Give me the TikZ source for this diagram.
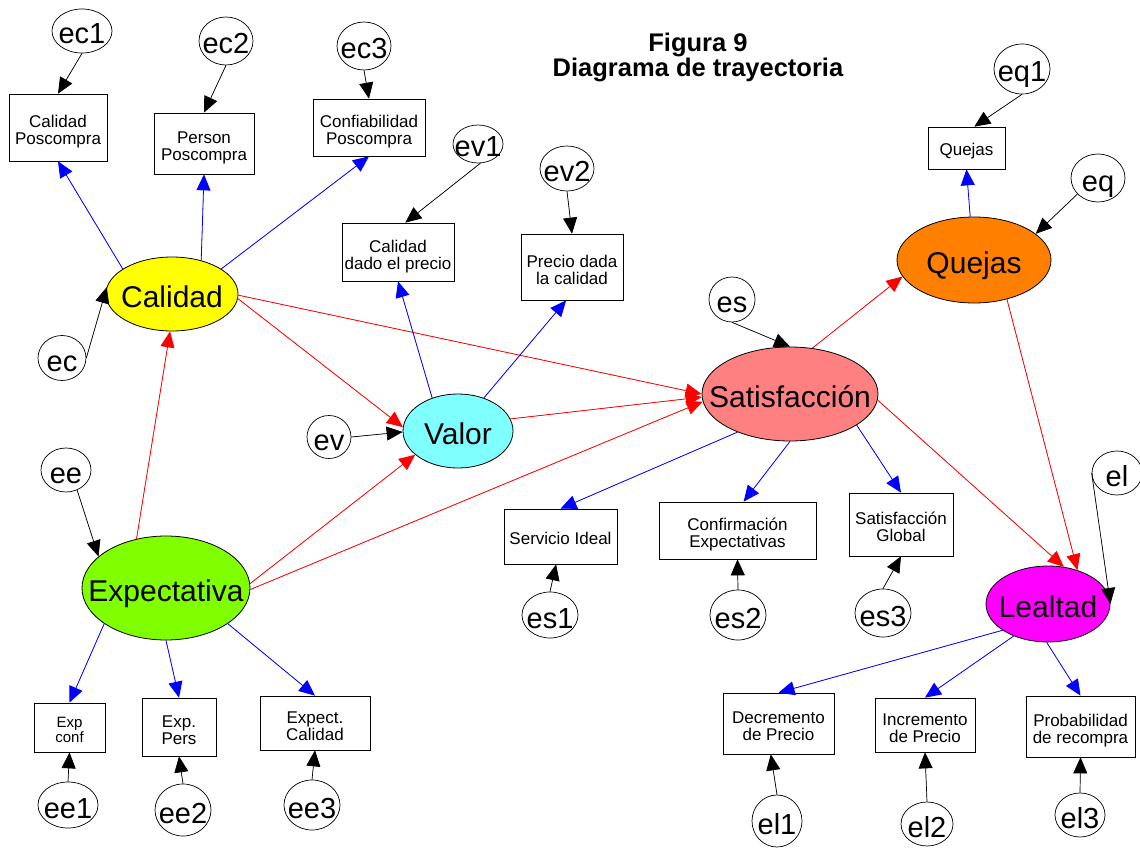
\documentclass[tikz,border=0pt]{standalone}
\usepackage{fontspec}
\setmainfont{Liberation Sans}
\usetikzlibrary{shapes.geometric,arrows.meta}

\definecolor{calfill}{RGB}{255,255,0}
\definecolor{expfill}{RGB}{128,255,0}
\definecolor{valfill}{RGB}{128,255,255}
\definecolor{satfill}{RGB}{255,128,128}
\definecolor{quefill}{RGB}{255,128,0}
\definecolor{leafill}{RGB}{255,0,255}
\definecolor{loadblue}{RGB}{0,0,255}
\definecolor{pathred}{RGB}{255,0,0}

\begin{document}
\begin{tikzpicture}[x=1pt,y=-1pt,
  latent/.style={ellipse,draw,line width=0.8pt,inner sep=0pt,
    text height=26pt,text depth=0pt,font=\fontsize{30}{30}\selectfont},
  err/.style={ellipse,draw,line width=0.7pt,inner sep=0pt,fill=white,
    text height=26pt,text depth=0pt,font=\fontsize{29}{29}\selectfont},
  obs/.style={rectangle,draw,line width=0.7pt,inner sep=0pt,align=center,
    text height=15pt,text depth=0pt,font=\fontsize{17}{17}\selectfont},
  obstwo/.style={obs,text height=34pt,text depth=0pt},
  tip/.style={-{Triangle[length=16pt,width=14pt]}},
  load/.style={tip,draw=loadblue,fill=loadblue,line width=0.8pt},
  effect/.style={tip,draw=pathred,fill=pathred,line width=0.8pt},
  resid/.style={tip,draw=black,fill=black,line width=0.7pt}]

\useasboundingbox (0,0) rectangle (1140,848);

% title
\node[font=\bfseries\fontsize{25.5}{25}\selectfont,align=center] (title) at (698,57)
  {Figura 9\\Diagrama de trayectoria};

% latent constructs
\node[latent,fill=calfill,minimum width=132pt,minimum height=74pt] (calidad) at (172,294) {\makebox[0pt]{Calidad}};
\node[latent,fill=expfill,minimum width=168pt,minimum height=104pt] (expect) at (166,588) {\makebox[0pt]{Expectativa}};
\node[latent,fill=valfill,minimum width=110pt,minimum height=74pt] (valor) at (458,431) {\makebox[0pt]{Valor}};
\node[latent,fill=satfill,minimum width=176pt,minimum height=94pt] (satis) at (790,394) {\makebox[0pt]{Satisfacción}};
\node[latent,fill=quefill,minimum width=154pt,minimum height=86pt] (quejas) at (974,260) {\makebox[0pt]{Quejas}};
\node[latent,fill=leafill,minimum width=124pt,minimum height=76pt] (lealtad) at (1048,604) {\makebox[0pt]{Lealtad}};

% observed indicators
\node[obstwo,minimum width=98pt,minimum height=67pt] (cpos) at (58,127.5) {Calidad\\Poscompra};
\node[obstwo,minimum width=100pt,minimum height=61pt] (ppos) at (204,143.5) {Person\\Poscompra};
\node[obstwo,minimum width=112pt,minimum height=57pt] (cfpos) at (369,127.5) {Confiabilidad\\Poscompra};
\node[obstwo,minimum width=112pt,minimum height=58pt] (cdp) at (398,252) {Calidad\\dado el precio};
\node[obstwo,minimum width=102pt,minimum height=66pt] (pdc) at (572,267) {Precio dada\\la calidad};
\node[obs,minimum width=77pt,minimum height=42pt] (qbox) at (966.5,148) {Quejas};
\node[obs,minimum width=113pt,minimum height=55pt] (sideal) at (560.5,536.5) {Servicio Ideal};
\node[obstwo,minimum width=157pt,minimum height=57pt] (confexp) at (737.5,530.5) {Confirmación\\Expectativas};
\node[obstwo,minimum width=104pt,minimum height=63pt] (sglob) at (901,524.5) {Satisfacción\\Global};
\node[obstwo,minimum width=111pt,minimum height=61pt] (decp) at (778.5,723.5) {Decremento\\de Precio};
\node[obstwo,minimum width=100pt,minimum height=54pt] (incp) at (925,725) {Incremento\\de Precio};
\node[obstwo,minimum width=109pt,minimum height=61pt] (probr) at (1080.5,726.5) {Probabilidad\\de recompra};
\node[obstwo,text height=30pt,minimum width=71pt,minimum height=49pt,font=\fontsize{15}{15}\selectfont] (expconf) at (69.5,727.5) {Exp\\conf};
\node[obstwo,minimum width=74pt,minimum height=58pt] (exppers) at (179,727) {Exp.\\Pers};
\node[obstwo,minimum width=110pt,minimum height=54pt] (expcal) at (315,723) {Expect.\\Calidad};

% error terms
\node[err,minimum width=60pt,minimum height=44pt] (ec1) at (82,31) {\makebox[0pt]{ec1}};
\node[err,minimum width=54pt,minimum height=48pt] (ec2) at (226,41) {\makebox[0pt]{ec2}};
\node[err,minimum width=54pt,minimum height=48pt] (ec3) at (364,46) {\makebox[0pt]{ec3}};
\node[err,minimum width=50pt,minimum height=38pt] (ev1) at (478,144) {\makebox[0pt]{ev1}};
\node[err,minimum width=54pt,minimum height=45pt] (ev2) at (567,168.5) {\makebox[0pt]{ev2}};
\node[err,minimum width=56pt,minimum height=50pt] (eq1) at (1022,69) {\makebox[0pt]{eq1}};
\node[err,minimum width=54pt,minimum height=48pt] (eq) at (1098,178) {\makebox[0pt]{eq}};
\node[err,minimum width=46pt,minimum height=45pt] (es) at (732,299.5) {\makebox[0pt]{es}};
\node[err,minimum width=48pt,minimum height=45pt] (ec) at (62,358) {\makebox[0pt]{ec}};
\node[err,minimum width=50pt,minimum height=44pt] (ee) at (66,470) {\makebox[0pt]{ee}};
\node[err,minimum width=44pt,minimum height=43pt] (ev) at (329,437) {\makebox[0pt]{ev}};
\node[err,minimum width=56pt,minimum height=46pt] (es1) at (550,615) {\makebox[0pt]{es1}};
\node[err,minimum width=56pt,minimum height=50pt] (es2) at (738,615) {\makebox[0pt]{es2}};
\node[err,minimum width=56pt,minimum height=48pt] (es3) at (883,613) {\makebox[0pt]{es3}};
\node[err,minimum width=50pt,minimum height=44pt] (el) at (1117,473) {\makebox[0pt]{el}};
\node[err,minimum width=50pt,minimum height=52pt] (el1) at (777,821) {\makebox[0pt]{el1}};
\node[err,minimum width=52pt,minimum height=44pt] (el2) at (927,824) {\makebox[0pt]{el2}};
\node[err,minimum width=50pt,minimum height=44pt] (el3) at (1080,815) {\makebox[0pt]{el3}};
\node[err,minimum width=60pt,minimum height=46pt] (ee1) at (68,805) {\makebox[0pt]{ee1}};
\node[err,minimum width=56pt,minimum height=52pt] (ee2) at (183,810) {\makebox[0pt]{ee2}};
\node[err,minimum width=56pt,minimum height=50pt] (ee3) at (312,805) {\makebox[0pt]{ee3}};

% structural paths
\draw[effect] (expect.121) -- (calidad.-93);
\draw[effect] (calidad.-4) -- (valor.176);
\draw[effect] (calidad.-1) -- (satis.180);
\draw[effect] (valor.13) -- (satis.182);
\draw[effect] (expect.3) -- (valor.-151);
\draw[effect] (expect.-1) -- (satis.185);
\draw[effect] (satis.64) -- (quejas.-167);
\draw[effect] (satis.-4) -- (lealtad.67);
\draw[effect] (quejas.-50) -- (lealtad.49);

% measurement loadings
\draw[load] (calidad.153) -- (cpos.south);
\draw[load] (calidad.49) -- (ppos.south);
\draw[load] (calidad.27) -- (cfpos.south);
\draw[load] (valor.128) -- (cdp.south);
\draw[load] (valor.52) -- (pdc.-100);
\draw[load] (quejas.95) -- (qbox.south);
\draw[load] (satis.-144) -- (sideal.north);
\draw[load] (satis.south) -- (confexp.78);
\draw[load] (satis.-25) -- (sglob.north);
\draw[load] (expect.-150) -- (expconf.north);
\draw[load] (expect.south) -- (exppers.north);
\draw[load] (expect.-30) -- (expcal.north);
\draw[load] (lealtad.-150) -- (decp.north);
\draw[load] (lealtad.-137) -- (incp.north);
\draw[load] (lealtad.-92) -- (probr.north);

% residuals
\draw[resid] (ec1.south) -- (cpos.north);
\draw[resid] (ec2.south) -- (ppos.north);
\draw[resid] (ec3.south) -- (cfpos.north);
\draw[resid] (ev1.-83) -- (cdp.76);
\draw[resid] (ev2.south) -- (pdc.north);
\draw[resid] (eq1.south) -- (qbox.70);
\draw[resid] (eq.-142) -- (quejas.23);
\draw[resid] (es.south) -- (satis.north);
\draw[resid] (ec.east) -- (calidad.174);
\draw[resid] (ev.east) -- (valor.181);
\draw[resid] (ee.-61) -- (expect.155);
\draw[resid] (es1.north) -- (sideal.-99);
\draw[resid] (es2.north) -- (confexp.south);
\draw[resid] (es3.north) -- (sglob.south);
\draw[resid] (el.west) -- (lealtad.east);
\draw[resid] (el1.north) -- (decp.-104);
\draw[resid] (el2.north) -- (incp.south);
\draw[resid] (el3.north) -- (probr.south);
\draw[resid] (ee1.north) -- (expconf.south);
\draw[resid] (ee2.north) -- (exppers.south);
\draw[resid] (ee3.north) -- (expcal.south);
\end{tikzpicture}
\end{document}
